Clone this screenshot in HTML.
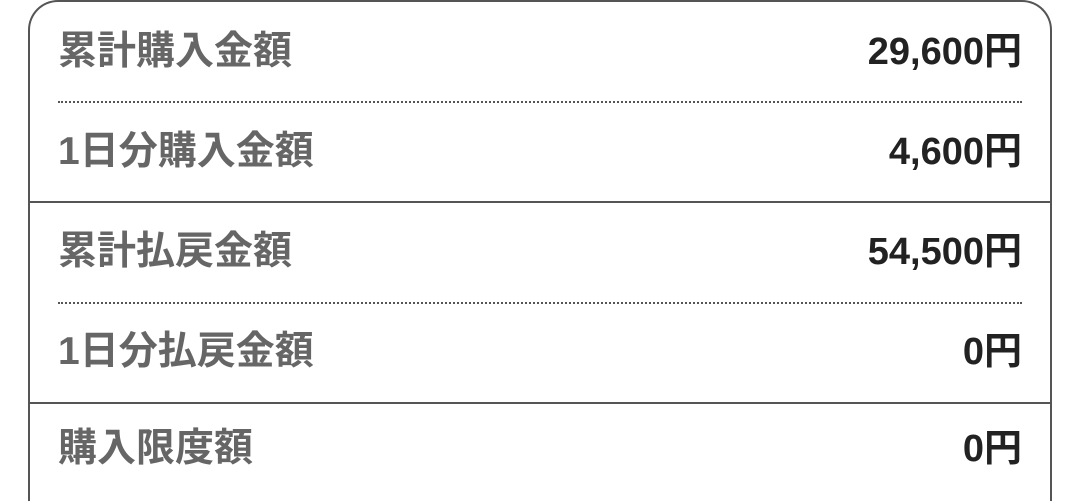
<!DOCTYPE html>
<html style="height:501px;overflow:hidden"><head><meta charset="utf-8"><style>
body{margin:0;width:1080px;height:501px;background:#fff;overflow:hidden;position:relative;font-family:"Liberation Sans","Noto Sans CJK JP",sans-serif;}
.box{position:absolute;left:28px;top:0;width:1024px;height:501px;border:2px solid #555;border-bottom:none;border-radius:30px 30px 0 0;box-sizing:border-box;}
.row{position:absolute;left:58px;width:964px;height:100px;}
.l{position:absolute;left:0;top:28px;font-size:39px;font-weight:bold;color:#666;line-height:44px;}
.v{position:absolute;right:0;top:28px;font-size:38px;font-weight:bold;color:#222;line-height:44px;}
.dot{position:absolute;left:58px;width:964px;border-top:2px dotted #555;}
.sol{position:absolute;left:29px;width:1022px;border-top:2px solid #555;}
</style></head><body>
<div class="box"></div>
<div class="row" style="top:2px"><div class="l">累計購入金額</div><div class="v">29,600円</div></div>
<div class="dot" style="top:101px"></div>
<div class="row" style="top:102px"><div class="l">1日分購入金額</div><div class="v">4,600円</div></div>
<div class="sol" style="top:201px"></div>
<div class="row" style="top:202px"><div class="l">累計払戻金額</div><div class="v">54,500円</div></div>
<div class="dot" style="top:302px"></div>
<div class="row" style="top:302px"><div class="l">1日分払戻金額</div><div class="v">0円</div></div>
<div class="sol" style="top:402px"></div>
<div class="row" style="top:399px"><div class="l">購入限度額</div><div class="v">0円</div></div>
</body></html>
